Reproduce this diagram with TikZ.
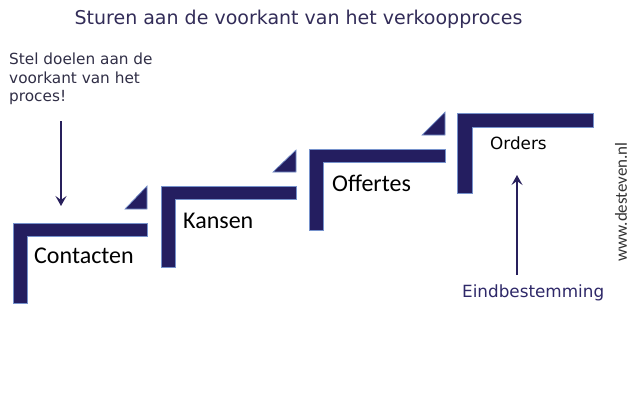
\documentclass[tikz,border=0pt]{standalone}
\usepackage{fontspec}
\setmainfont{Carlito}
\newfontfamily\dejavu{DejaVu Sans}
\usetikzlibrary{arrows.meta,positioning}
\definecolor{stepnavy}{RGB}{36,30,96}
\definecolor{stepedge}{RGB}{118,146,204}
\definecolor{titlepurple}{RGB}{50,44,88}
\definecolor{notegrey}{RGB}{48,46,70}
\definecolor{goalpurple}{RGB}{46,40,104}
\definecolor{arrownavy}{RGB}{40,32,92}
\tikzset{
  stepbar/.style={fill=stepnavy, draw=stepedge, line width=0.7pt},
  steplab/.style={anchor=base west, inner sep=0pt, font=\fontsize{24}{28}\selectfont, text=black},
  pointer/.style={arrownavy, line width=2.2pt,
                  -{Stealth[length=10pt,width=11pt,inset=4pt]}},
}

\begin{document}
\begin{tikzpicture}[x=1pt,y=-1pt]
  \path[use as bounding box] (0,0) rectangle (640,405);

  \node[font=\dejavu\fontsize{19}{22}\selectfont, text=titlepurple, anchor=base, inner sep=0pt]
    (title) at (298.5,24) {Sturen aan de voorkant van het verkoopproces};

  \node[font=\dejavu\fontsize{15.3}{18.5}\selectfont, text=notegrey, align=left,
        anchor=north west, inner sep=0pt] (doel) at (9,53)
    {Stel doelen aan de\\voorkant van het\\proces!};

  % the four steps
  \path[stepbar] (13,223) -- (147,223) -- (147,236) -- (27,236) -- (27,303) -- (13,303) -- cycle;
  \path[stepbar] (161,186) -- (296,186) -- (296,199) -- (175,199) -- (175,267) -- (161,267) -- cycle;
  \path[stepbar] (309,149) -- (445,149) -- (445,162) -- (323,162) -- (323,230) -- (309,230) -- cycle;
  \path[stepbar] (457,113) -- (593,113) -- (593,127) -- (472,127) -- (472,193) -- (457,193) -- cycle;
  \path[stepbar] (125,209) -- (147,209) -- (147,186) -- cycle;
  \path[stepbar] (273,172) -- (296,172) -- (296,150) -- cycle;
  \path[stepbar] (422,135) -- (445,135) -- (445,112) -- cycle;

  \node[steplab] (contacten) at (34,263) {Contacten};
  \node[steplab] (kansen) at (183,228) {Kansen};
  \node[steplab] (offertes) at (332,191) {Offertes};
  \node[steplab, font=\dejavu\fontsize{16.8}{20}\selectfont] (orders) at (490,149) {Orders};

  \node[font=\dejavu\fontsize{16.8}{20}\selectfont, text=goalpurple, anchor=base west, inner sep=0pt]
    (eind) at (462,297) {Eindbestemming};

  \node[rotate=90, font=\fontsize{17}{20}\selectfont, text=black!80, inner sep=0pt]
    (site) at (621,202) {www.desteven.nl};

  \coordinate (doelvoet) at (61,121);
  \coordinate (doelpunt) at (61,206);
  \coordinate (eindvoet) at (517,275);
  \coordinate (eindpunt) at (517,175);
  \draw[pointer] (doelvoet) -- (doelpunt);
  \draw[pointer] (eindvoet) -- (eindpunt);
\end{tikzpicture}
\end{document}
